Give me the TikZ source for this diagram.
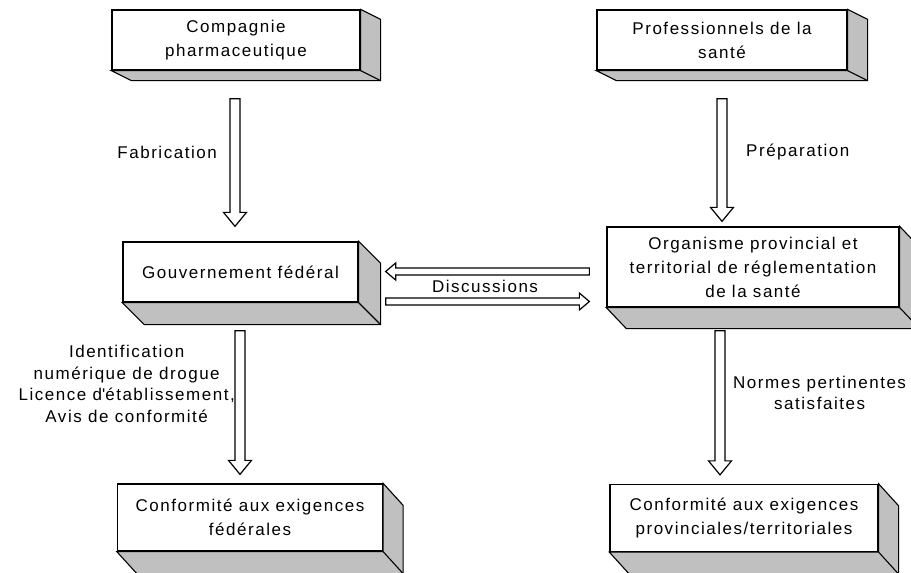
\documentclass[tikz,border=0pt]{standalone}
\usepackage{fontspec}
\setmainfont{Liberation Sans}[LetterSpace=9]
\usetikzlibrary{calc}
\definecolor{faceGray}{RGB}{192,192,192}
\tikzset{
  box/.style={draw, line width=1.3pt, fill=white, align=center, inner sep=0pt,
    minimum height=60pt, font=\fontsize{17}{24}\selectfont},
  lbl/.style={align=center, inner sep=0pt, font=\fontsize{17}{21.5}\selectfont},
  hollow/.style n args={3}{draw, line width=1.2pt, fill=white, line join=miter,
    to path={let \p1=(\tikztostart), \p2=(\tikztotarget),
      \n1={atan2(\y2-\y1,\x2-\x1)}, \n2={veclen(\x2-\x1,\y2-\y1)} in
      [shift={(\p1)}, rotate=\n1]
      (0pt,#1) -- ({\n2*1pt-#3},#1) -- ({\n2*1pt-#3},#2) -- ({\n2*1pt},0pt)
      -- ({\n2*1pt-#3},-#2) -- ({\n2*1pt-#3},-#1) -- (0pt,-#1) -- cycle}}
}
\begin{document}
\begin{tikzpicture}[x=1pt, y=-1pt]
   \newcommand{\sideFaces}[3]{
        \filldraw[fill=faceGray, line width=1.1pt, line join=miter]
          (#1.north east) -- ++(#2,#3) -- ($(#1.south east)+(#2,#3)$)
          -- ($(#1.south west)+(#2,#3)$) -- (#1.south west) -- (#1.south east) -- cycle;
        \draw[line width=1.1pt] (#1.south east) -- ++(#2,#3);
    }
  \useasboundingbox (0,0) rectangle (911,573);

  \node[box, minimum width=248pt] (pharma) at (236,40) {Compagnie\\pharmaceutique};
  \node[box, minimum width=250pt] (sante) at (722,40) {Professionnels de la\\santé};
  \node[box, minimum width=235pt] (gouv) at (240.5,272) {Gouvernement fédéral};
  \node[box, minimum width=292pt, minimum height=80pt] (org) at (753,267)
    {Organisme provincial et\\territorial de réglementation\\de la santé};
  \node[box, minimum width=265pt, minimum height=67pt] (fedC) at (250,517.5)
    {Conformité aux exigences\\fédérales};
  \node[box, minimum width=268pt, minimum height=67pt] (provC) at (744,518)
    {Conformité aux exigences\\provinciales/territoriales};

  \sideFaces{pharma}{20}{10}
  \sideFaces{sante}{20}{10}
  \sideFaces{gouv}{22}{22}
  \sideFaces{org}{20}{21}
  \sideFaces{fedC}{20}{22}
  \sideFaces{provC}{20}{22}

  % arrow ends
  \coordinate (fabTop) at ($(pharma.south)+(-1,28)$);
  \coordinate (fabEnd) at ($(gouv.north)+(-5.5,-15)$);
  \coordinate (prepTop) at ($(sante.south)+(0,28)$);
  \coordinate (prepEnd) at ($(org.north)+(-31,-5)$);
  \coordinate (fedTop) at ($(gouv.south)+(-0.5,28)$);
  \coordinate (fedEnd) at ($(fedC.north)+(-10,-9)$);
  \coordinate (provTop) at ($(org.south)+(-33,23)$);
  \coordinate (provEnd) at ($(provC.north)+(-24,-9)$);
  \coordinate (discL1) at ($(gouv.east)+(27,-0.5)$);
  \coordinate (discR1) at ($(org.west)+(-17,4.5)$);
  \coordinate (discL2) at ($(gouv.east)+(27,29.5)$);
  \coordinate (discR2) at ($(org.west)+(-17,34.5)$);

  \draw[hollow={5pt}{11.5pt}{14pt}] (fabTop) to (fabEnd);
  \draw[hollow={5pt}{11.5pt}{14pt}] (prepTop) to (prepEnd);
  \draw[hollow={5pt}{11.5pt}{14pt}] (fedTop) to (fedEnd);
  \draw[hollow={5pt}{11.5pt}{14pt}] (provTop) to (provEnd);
  \draw[hollow={3.5pt}{8.5pt}{10pt}] (discR1) to (discL1);
  \draw[hollow={3.5pt}{8.5pt}{10pt}] (discL2) to (discR2);

  \node[lbl, anchor=east] (fab) at (217,152) {Fabrication};
  \node[lbl, anchor=west] (prep) at (746,152) {Préparation};
  \node[lbl] (disc) at (485,286) {Discussions};
  \node[lbl, anchor=east] (fedLbl) at (235,384)
    {Identification\\numérique de drogue\\Licence d\textquotesingle établissement,\\Avis de conformité};
  \node[lbl, anchor=west] (provLbl) at (733,393) {Normes pertinentes\\satisfaites};
\end{tikzpicture}
\end{document}
